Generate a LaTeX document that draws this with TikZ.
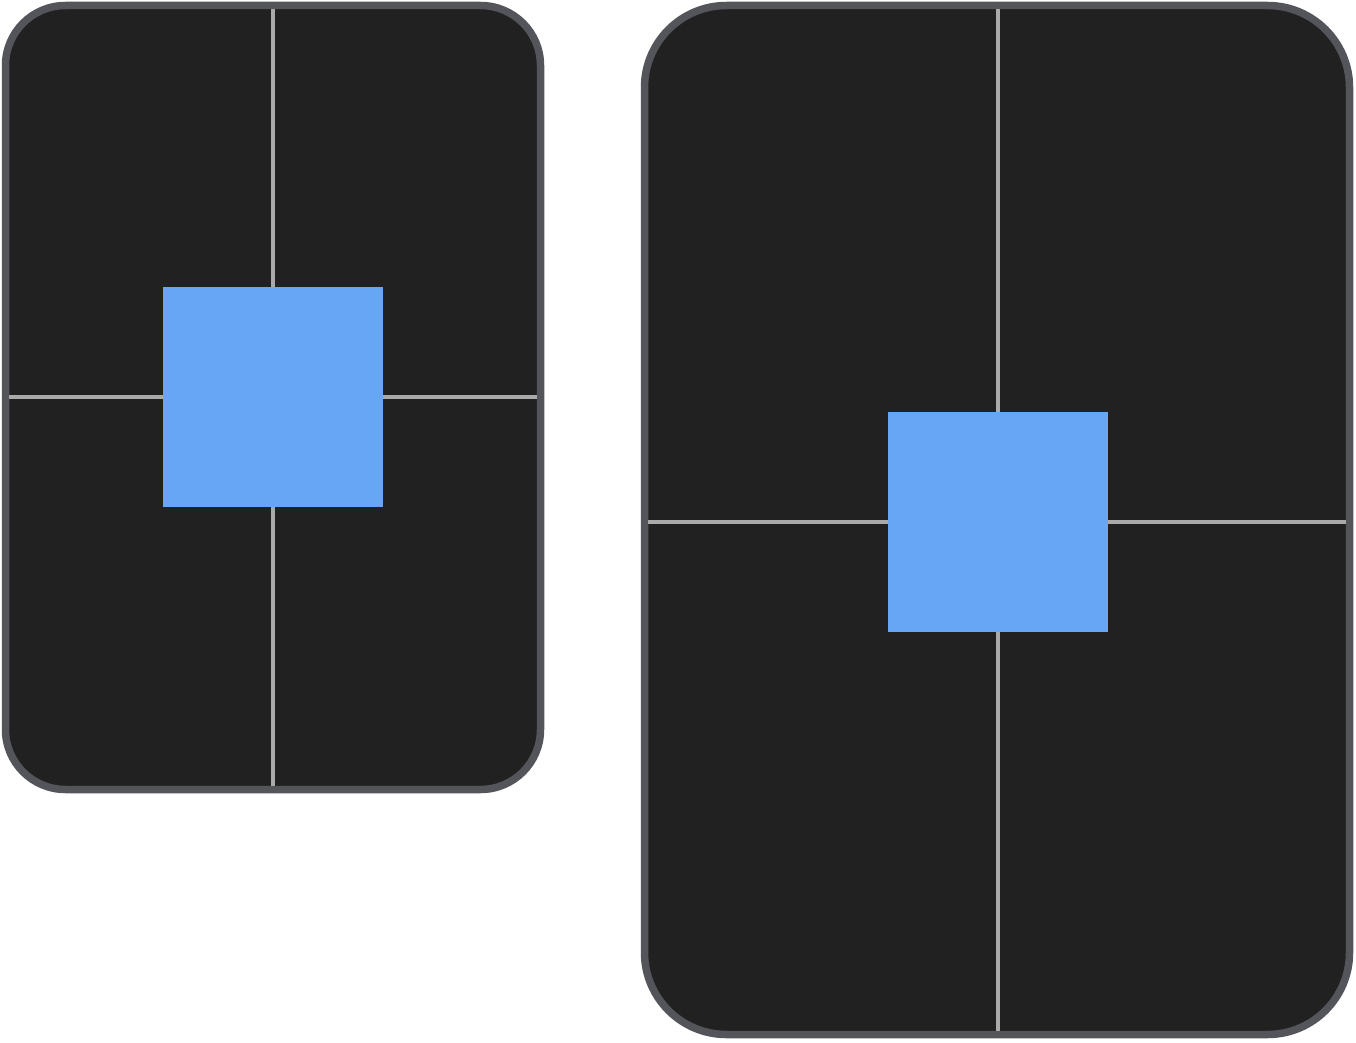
\documentclass[tikz,border=0pt]{standalone}
\definecolor{panelfill}{HTML}{212121}
\definecolor{panelrim}{HTML}{53555B}
\definecolor{guide}{HTML}{AAAAAA}
\definecolor{boxblue}{HTML}{67A6F5}
\tikzset{
	panel/.style={draw=panelrim,fill=panelfill,line width=7.5pt,outer sep=0pt,inner sep=0pt},
	square/.style={fill=boxblue,minimum size=220pt,inner sep=0pt,outer sep=0pt},
	guideline/.style={draw=guide,line width=3.5pt,shorten >=3.75pt}
}
\begin{document}
\begin{tikzpicture}[x=1pt,y=-1pt]
		\useasboundingbox (0,0) rectangle (1356,1043);
		\node[panel,rounded corners=60pt,minimum width=535pt,minimum height=784pt] (small) at (273,397.5) {};
		\node[panel,rounded corners=82pt,minimum width=705pt,minimum height=1029pt] (large) at (997,520) {};
		\node[square] (smallsq) at (273,397) {};
		\node[square] (largesq) at (998,522) {};
		\draw[guideline] (smallsq.north) -- (smallsq.north |- small.north);
		\draw[guideline] (smallsq.south) -- (smallsq.south |- small.south);
		\draw[guideline] (smallsq.west) -- (smallsq.west -| small.west);
		\draw[guideline] (smallsq.east) -- (smallsq.east -| small.east);
		\draw[guideline] (largesq.north) -- (largesq.north |- large.north);
		\draw[guideline] (largesq.south) -- (largesq.south |- large.south);
		\draw[guideline] (largesq.west) -- (largesq.west -| large.west);
		\draw[guideline] (largesq.east) -- (largesq.east -| large.east);
	\end{tikzpicture}
\end{document}
